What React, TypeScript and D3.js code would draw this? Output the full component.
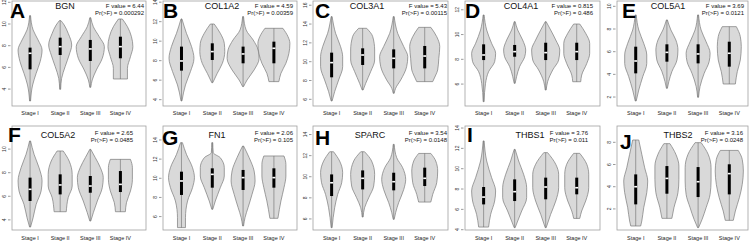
import React from "react";
import * as d3 from "d3";

const letters = ["A", "B", "C", "D", "E", "F", "G", "H", "I", "J"];
const genes = ["BGN", "COL1A2", "COL3A1", "COL4A1", "COL5A1", "COL5A2", "FN1", "SPARC", "THBS1", "THBS2"];
const fValues = ["6.44", "4.59", "5.43", "0.815", "3.69", "2.65", "2.06", "3.54", "3.76", "3.16"];
const pValues = ["0.000292", "0.00359", "0.00115", "0.486", "0.0121", "0.0485", "0.105", "0.0148", "0.011", "0.0248"];
const stages = ["Stage I", "Stage II", "Stage III", "Stage IV"];

const yDomains = [
  [2.44, 12.12], [3.35, 14.12], [5.29, 16.45], [4.23, 12.71], [1.21, 10.47],
  [3.14, 11.96], [4.6, 15.46], [4.95, 14.81], [3.97, 14.2], [0.1, 9.47],
];
const yTicks = [
  [4, 6, 8, 10, 12], [4, 6, 8, 10, 12, 14], [6, 8, 10, 12, 14, 16], [6, 8, 10, 12], [2, 4, 6, 8, 10],
  [4, 6, 8, 10], [6, 8, 10, 12, 14], [6, 8, 10, 12, 14], [4, 6, 8, 10, 12, 14], [2, 4, 6, 8],
];

// violin density profiles: [expression value, relative density]
const violinBGN = [
  [[10.77, .03], [9.45, .19], [8.53, .5], [7.6, .75], [6.53, .63], [5.45, .38], [4.38, .16], [2.9, .03]],
  [[10.31, .05], [9.91, .25], [9.14, .5], [8.06, .72], [7.14, .56], [6.07, .31], [4.99, .09], [3.98, .03]],
  [[10.58, .03], [9.75, .19], [8.83, .56], [7.91, .88], [6.84, .75], [5.76, .38], [4.84, .12], [4.16, .03]],
  [[10.46, .12], [9.75, .44], [8.83, .69], [7.91, .78], [6.99, .63], [5.91, .44], [4.93, .44]],
];
const boxBGN = [[5.82, 7.3, 7.82], [7.14, 7.91, 8.74], [6.59, 7.7, 8.53], [6.84, 7.91, 8.83]];

const violinCOL1A2 = [
  [[12.28, .03], [10.81, .31], [9.44, .63], [8.24, .78], [6.88, .56], [5.51, .25], [3.87, .03]],
  [[11.76, .12], [10.81, .5], [9.78, .75], [8.93, .78], [7.73, .63], [6.7, .31], [5.74, .03]],
  [[12.52, .03], [11.15, .19], [10.12, .63], [9.1, .94], [8.24, 1], [7.05, .69], [6.02, .25], [5.34, .03]],
  [[11.32, .56], [10.47, .88], [9.78, 1], [8.76, .94], [7.73, .75], [6.7, .44], [5.85, .31]],
];
const boxCOL1A2 = [[6.98, 7.97, 9.44], [8.07, 8.93, 9.78], [7.73, 8.69, 9.44], [7.73, 9.27, 9.95]];

const violinCOL3A1 = [
  [[14.79, .03], [13.01, .25], [11.6, .56], [10.53, .69], [9.47, .69], [8.06, .44], [6.82, .19], [5.82, .03]],
  [[13.55, .25], [12.66, .63], [11.24, .75], [10.18, .75], [8.94, .5], [7.7, .19], [6.99, .03]],
  [[14.79, .03], [13.01, .25], [11.6, .63], [10.53, .88], [9.47, .81], [8.06, .44], [7.17, .12], [6.64, .03]],
  [[13.65, .38], [12.66, .75], [11.6, .94], [10.36, .88], [9.12, .81], [8.58, .69], [7.88, .5]],
];
const boxCOL3A1 = [[8.34, 9.9, 10.96], [9.65, 10.71, 11.42], [9.29, 10.36, 11.31], [9.29, 10.6, 11.67]];

const violinCOL4A1 = [
  [[11.58, .03], [10.37, .19], [9.29, .5], [8.48, .75], [7.81, .69], [7.0, .31], [6.06, .12], [4.58, .03]],
  [[11.04, .03], [10.37, .19], [9.56, .5], [8.75, .69], [8.21, .63], [7.41, .31], [6.6, .12], [6.06, .03]],
  [[11.04, .03], [10.37, .31], [9.56, .63], [8.75, .88], [7.94, .81], [7.14, .44], [6.19, .12], [5.52, .03]],
  [[10.85, .19], [10.1, .56], [9.29, .81], [8.48, .81], [7.67, .63], [6.73, .31], [6.19, .25]],
];
const boxCOL4A1 = [[7.94, 8.35, 9.21], [8.21, 8.62, 9.16], [7.94, 8.54, 9.34], [7.94, 8.62, 9.34]];

const violinCOL5A1 = [
  [[9.24, .03], [7.91, .19], [6.74, .5], [5.71, .69], [4.97, .69], [3.8, .44], [2.62, .19], [1.65, .03]],
  [[8.8, .03], [7.91, .25], [7.03, .56], [6.15, .69], [5.27, .63], [4.24, .31], [3.36, .12], [2.77, .03]],
  [[9.24, .03], [7.91, .19], [6.88, .5], [5.86, .75], [5.12, .69], [4.09, .38], [2.92, .12], [1.98, .03]],
  [[8.21, .44], [7.33, .69], [6.44, .75], [5.27, .69], [4.24, .5], [3.15, .38]],
];
const boxCOL5A1 = [[4.09, 5.18, 6.44], [5.12, 5.94, 6.65], [4.97, 5.8, 6.65], [4.68, 5.86, 6.88]];

const violinCOL5A2 = [
  [[10.69, .03], [9.56, .25], [8.43, .56], [7.3, .75], [6.45, .69], [5.31, .38], [4.18, .19], [3.39, .03]],
  [[9.84, .19], [8.99, .56], [7.86, .75], [6.87, .75], [5.88, .5], [4.69, .38]],
  [[9.98, .03], [9.28, .31], [8.43, .63], [7.58, .81], [6.73, .75], [5.6, .44], [4.61, .19], [3.9, .03]],
  [[9.13, .63], [8.43, .75], [7.44, .75], [6.45, .63], [5.46, .38], [4.69, .31]],
];
const boxCOL5A2 = [[5.6, 6.59, 7.58], [6.16, 6.96, 7.86], [6.3, 6.87, 7.72], [6.36, 7.01, 8.14]];

const violinFN1 = [
  [[13.72, .06], [12.5, .31], [11.11, .69], [10.07, .81], [9.02, .69], [7.63, .38], [5.89, .25], [4.85, .25]],
  [[13.72, .03], [12.68, .06], [12.15, .5], [11.11, .75], [10.24, .75], [9.02, .5], [7.63, .19], [6.76, .03]],
  [[13.37, .03], [12.15, .38], [10.76, .69], [9.72, .75], [8.33, .56], [6.94, .31], [5.89, .12], [5.02, .03]],
  [[12.33, .63], [11.46, .75], [10.24, .75], [9.02, .63], [7.63, .44], [5.82, .25]],
];
const boxFN1 = [[8.26, 9.72, 10.69], [9.02, 10.41, 11.04], [8.78, 10.07, 10.87], [9.02, 10.07, 11.04]];

const violinSPARC = [
  [[12.37, .12], [11.49, .5], [10.38, .69], [9.43, .63], [8.33, .38], [7.06, .19], [5.17, .03]],
  [[12.37, .12], [11.49, .56], [10.22, .75], [9.12, .69], [8.01, .38], [7.06, .12], [6.18, .03]],
  [[13.07, .03], [11.8, .19], [10.86, .56], [9.75, .75], [8.8, .63], [7.54, .31], [6.59, .12], [5.96, .03]],
  [[12.21, .38], [11.49, .69], [10.54, .81], [9.43, .75], [8.33, .5], [7.6, .38]],
];
const boxSPARC = [[8.17, 9.43, 10.22], [8.8, 9.85, 10.6], [8.71, 9.53, 10.38], [9.12, 9.85, 10.86]];

const violinTHBS1 = [
  [[12.73, .03], [10.76, .19], [9.12, .5], [7.81, .75], [6.82, .69], [5.51, .44], [4.26, .31]],
  [[11.9, .03], [10.76, .25], [9.45, .56], [8.13, .75], [7.15, .75], [5.84, .44], [4.85, .19], [4.2, .03]],
  [[11.58, .12], [10.43, .63], [9.45, .81], [8.13, .81], [6.82, .63], [5.51, .31], [4.2, .03]],
  [[11.51, .19], [10.43, .63], [9.45, .75], [8.13, .75], [6.82, .56], [5.84, .31], [5.11, .19]],
];
const boxTHBS1 = [[6.49, 7.21, 8.2], [6.82, 7.74, 8.95], [6.99, 8.2, 9.12], [7.48, 8.13, 9.12]];

const violinTHBS2 = [
  [[8.21, .19], [6.92, .38], [5.71, .56], [4.51, .75], [3.46, .69], [2.11, .5], [0.91, .38], [0.46, .31]],
  [[7.88, .19], [6.92, .56], [5.86, .75], [4.66, .75], [3.46, .69], [2.11, .44], [1.15, .31]],
  [[7.97, .19], [6.92, .63], [5.71, .81], [4.51, .81], [3.31, .75], [2.11, .5], [1.06, .25], [0.31, .03]],
  [[7.27, .56], [6.46, .81], [5.41, .88], [4.21, .81], [3.01, .63], [1.81, .38], [0.97, .25]],
];
const boxTHBS2 = [[2.41, 4.0, 5.11], [3.37, 4.75, 5.86], [3.07, 4.45, 5.77], [3.31, 5.18, 6.02]];

const violins = [violinBGN, violinCOL1A2, violinCOL3A1, violinCOL4A1, violinCOL5A1, violinCOL5A2, violinFN1, violinSPARC, violinTHBS1, violinTHBS2];
const boxes = [boxBGN, boxCOL1A2, boxCOL3A1, boxCOL4A1, boxCOL5A1, boxCOL5A2, boxFN1, boxSPARC, boxTHBS1, boxTHBS2];

// layout
const colLeft = [12, 163, 313, 465, 617];
const colRight = [146, 297, 448, 600, 748];
const colDomainEnd = [4.85, 4.75, 4.75, 4.75, 4.6];
const rowTop = [1, 126];
const rowBottom = [106, 230];
const titleX = [65, 222, 367, 521, 668, 58, 217, 370, 530, 678];
const statRight = [144, 293, 447, 593, 744, 133, 293, 447, 588, 743];
const letterX = [10, 163, 315, 465, 622, 8, 162, 315, 467, 620];
const letterY = [18, 18, 18, 18, 18, 142, 145, 145, 142, 149];
const titleY = [8.5, 138];
const statY = [[8, 14.5], [135, 141.5]];
const labelY = [115, 240];
const HALF_W = 16;

const FONT = "'Liberation Sans', Arial, sans-serif";

function Panel({ p }: { p: number }) {
  const col = p % 5;
  const row = Math.floor(p / 5);
  const L = colLeft[col], R = colRight[col], T = rowTop[row], B = rowBottom[row];
  const x = d3.scaleLinear().domain([0.4, colDomainEnd[col]]).range([L, R]);
  const y = d3.scaleLinear().domain(yDomains[p]).range([B, T]);
  const w = d3.scaleLinear().domain([0, 1]).range([0, HALF_W]);

  return (
    <g>
      <rect x={L} y={T} width={R - L} height={B - T} fill="#fff" stroke="#a0a0a0" strokeWidth={0.8} />
      {violins[p].map((prof, i) => {
        const cx = x(i + 1);
        const area = d3
          .area<number[]>()
          .y((d) => y(d[0]))
          .x0((d) => cx - w(d[1]))
          .x1((d) => cx + w(d[1]))
          .curve(d3.curveMonotoneY);
        const [q1, med, q3] = boxes[p][i];
        const top = prof[0][0];
        const bot = prof[prof.length - 1][0];
        return (
          <g key={i}>
            <path d={area(prof) || ""} fill="#d9d9d9" stroke="#7a7a7a" strokeWidth={0.7} />
            <line x1={cx} x2={cx} y1={y(top)} y2={y(bot)} stroke="#6a6a6a" strokeWidth={0.6} />
            <rect x={cx - 1.5} width={3} y={y(q3)} height={y(q1) - y(q3)} fill="#000" />
            <rect x={cx - 1.5} width={3} y={y(med) - 0.8} height={1.6} fill="#fff" />
          </g>
        );
      })}
      {yTicks[p].map((t) => (
        <g key={t}>
          <line x1={L - 4} x2={L - 1.5} y1={y(t)} y2={y(t)} stroke="#555" strokeWidth={0.6} />
          <text
            transform={`translate(${L - 6},${y(t)}) rotate(-90)`}
            textAnchor="middle"
            fontSize={5}
            fontFamily={FONT}
            fill="#333"
          >
            {t}
          </text>
        </g>
      ))}
      {stages.map((s, i) => (
        <text key={s} x={x(i + 1)} y={labelY[row]} textAnchor="middle" fontSize={5.5} fontFamily={FONT} fill="#222">
          {s}
        </text>
      ))}
      <text x={titleX[p]} y={titleY[row]} textAnchor="middle" fontSize={9} fontFamily={FONT} fill="#111">
        {genes[p]}
      </text>
      <text x={statRight[p]} y={statY[row][0]} textAnchor="end" fontSize={6} fontFamily={FONT} fill="#111">
        {`F value = ${fValues[p]}`}
      </text>
      <text x={statRight[p]} y={statY[row][1]} textAnchor="end" fontSize={6} fontFamily={FONT} fill="#111">
        {`Pr(>F) = ${pValues[p]}`}
      </text>
      <text x={letterX[p]} y={letterY[p]} fontSize={21} fontWeight="bold" fontFamily={FONT} fill="#000">
        {letters[p]}
      </text>
    </g>
  );
}

export default function App() {
  return (
    <svg
      width={750}
      height={242}
      viewBox="0 0 750 242"
      style={{ position: "absolute", left: 0, top: 0, background: "#fff" }}
    >
      <rect x={0} y={0} width={750} height={242} fill="#fff" />
      {genes.map((g, p) => (
        <Panel key={g} p={p} />
      ))}
    </svg>
  );
}
